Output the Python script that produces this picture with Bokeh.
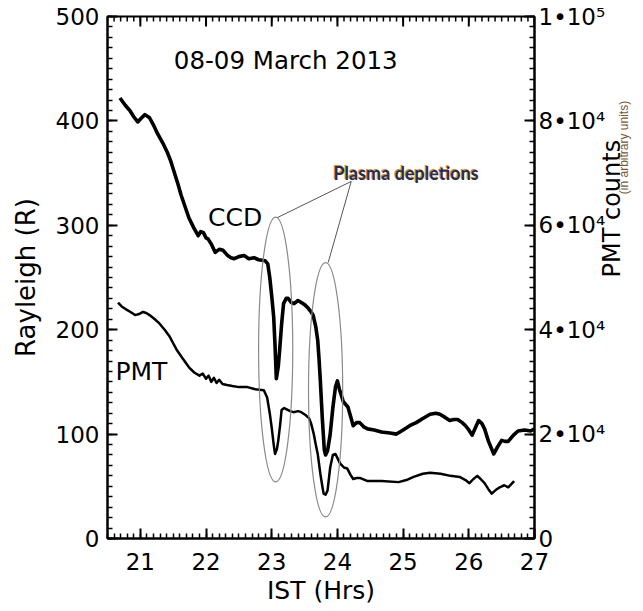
import math
from bokeh.plotting import figure
from bokeh.models import Range1d, LinearAxis, FixedTicker, Label
from bokeh.embed import file_html
from bokeh.resources import INLINE

# ---------------- data ----------------
ccd_hours = [20.69, 20.77, 20.84, 20.90, 20.96, 21.02, 21.07, 21.14, 21.20, 21.26,
             21.34, 21.41, 21.46, 21.51, 21.57, 21.62, 21.68, 21.74, 21.81, 21.88,
             21.92, 21.96, 22.00, 22.03, 22.08, 22.14, 22.20, 22.26, 22.33, 22.38,
             22.43, 22.50, 22.58, 22.65, 22.73, 22.80, 22.90, 22.94, 22.97, 23.00,
             23.03, 23.05, 23.07, 23.10, 23.12, 23.15, 23.18, 23.22, 23.25, 23.30,
             23.34, 23.40, 23.45, 23.50, 23.55, 23.60, 23.63, 23.67, 23.70, 23.72,
             23.74, 23.77, 23.80, 23.82, 23.85, 23.89, 23.93, 23.97, 24.00, 24.03,
             24.09, 24.16, 24.20, 24.24, 24.29, 24.34, 24.40, 24.46, 24.56, 24.67,
             24.80, 24.90, 25.00, 25.10, 25.20, 25.30, 25.41, 25.50, 25.56, 25.64,
             25.71, 25.77, 25.83, 25.90, 25.95, 26.00, 26.05, 26.10, 26.15, 26.20,
             26.24, 26.30, 26.38, 26.44, 26.50, 26.55, 26.60, 26.68, 26.75, 26.85,
             26.94, 27.00]
ccd_rayleigh = [422, 415, 410, 404, 399, 403, 406, 403, 396, 388,
                379, 370, 362, 352, 340, 329, 318, 307, 298, 290,
                294, 293, 288, 287, 282, 274, 277, 276, 271, 269,
                268, 270, 271, 268, 269, 267, 266, 263, 250, 232,
                212, 185, 153, 165, 180, 205, 225, 230, 230, 226,
                225, 228, 226, 224, 221, 217, 214, 203, 190, 172,
                151, 115, 85, 80, 84, 100, 125, 145, 151, 143,
                131, 126, 117, 108, 111, 111, 107, 105, 104, 102,
                101, 100, 104, 108, 111, 115, 119, 120, 119, 116,
                113, 114, 114, 111, 108, 104, 99, 106, 113, 110,
                105, 93, 81, 88, 94, 93, 93, 99, 103, 104,
                103, 105]

pmt_hours = [20.66, 20.72, 20.77, 20.85, 20.92, 20.98, 21.04, 21.09, 21.14, 21.22,
             21.29, 21.37, 21.44, 21.50, 21.56, 21.65, 21.74, 21.82, 21.90, 21.95,
             22.00, 22.04, 22.08, 22.12, 22.16, 22.20, 22.25, 22.32, 22.40, 22.50,
             22.63, 22.75, 22.88, 22.93, 22.97, 23.00, 23.03, 23.05, 23.08, 23.10,
             23.13, 23.15, 23.19, 23.22, 23.28, 23.33, 23.40, 23.45, 23.52, 23.57,
             23.60, 23.64, 23.67, 23.70, 23.74, 23.77, 23.79, 23.82, 23.85, 23.89,
             23.93, 23.97, 24.04, 24.10, 24.15, 24.20, 24.24, 24.29, 24.34, 24.46,
             24.67, 24.93, 25.05, 25.16, 25.30, 25.41, 25.57, 25.72, 25.86, 25.95,
             26.01, 26.07, 26.13, 26.18, 26.24, 26.30, 26.35, 26.42, 26.47, 26.54,
             26.60, 26.69]
pmt_counts = [45200, 44400, 44000, 43400, 42800, 43000, 43400, 43200, 42800, 42000,
              41200, 40000, 38800, 37400, 36000, 34400, 32800, 31800, 31200, 31600,
              30600, 31200, 30000, 30800, 29800, 30400, 29600, 29400, 29200, 29000,
              29000, 28600, 28400, 27000, 24000, 21200, 18000, 16200, 17200, 18800,
              22000, 24600, 25000, 24800, 24400, 24200, 24400, 24200, 23600, 23000,
              22000, 20000, 18000, 16200, 12400, 10000, 8600, 8400, 9200, 13600,
              16000, 16200, 14400, 13600, 13400, 12200, 11400, 11600, 11600, 11000,
              11000, 10800, 11200, 11800, 12400, 12600, 12400, 12000, 11800, 11200,
              10600, 11400, 12000, 11400, 10600, 9400, 8600, 9400, 9800, 10200,
              9800, 11000]

x_major = [21, 22, 23, 24, 25, 26, 27]
x_labels = ["21", "22", "23", "24", "25", "26", "27"]
left_major = [0, 100, 200, 300, 400, 500]
right_major = [0, 20000, 40000, 60000, 80000, 100000]
right_labels = ["0", "2•10⁴", "4•10⁴", "6•10⁴", "8•10⁴", "1•10⁵"]

# depletion marks (ellipses): centre hour, centre R, width (h), height (R)
dep_x = [23.06, 23.82]
dep_y = [181, 142.5]
dep_w = [0.52, 0.52]
dep_h = [254, 244]
# pointer lines from the "Plasma depletions" note
ptr_x0 = [24.21, 24.21]
ptr_y0 = [342, 342]
ptr_x1 = [23.09, 23.86]
ptr_y1 = [307.5, 264.4]

FONT = "DejaVu Sans"
X0, X1 = 20.5, 27.0
Y0, Y1 = 0, 500
P0, P1 = 0, 100000
FRAME_W, FRAME_H = 437, 522
LEFT, TOP = 107, 16
W, H = 643, 611

p = figure(width=W, height=H, x_range=Range1d(X0, X1), y_range=Range1d(Y0, Y1),
           output_backend="svg", toolbar_location=None,
           min_border_left=LEFT, min_border_right=W - LEFT - FRAME_W,
           min_border_top=TOP, min_border_bottom=H - TOP - FRAME_H)
p.extra_y_ranges = {"pmt": Range1d(P0, P1)}
p.xgrid.visible = False
p.ygrid.visible = False
p.outline_line_color = "black"
p.outline_line_width = 2

x_minor = [round(X0 + 0.1 * i, 2) for i in range(66)]
left_minor = list(range(0, 501, 10))
right_minor = list(range(0, 100001, 2000))


def style(ax, label_size="23px"):
    ax.axis_line_width = 2
    ax.axis_line_color = "black"
    ax.major_tick_in = 10
    ax.major_tick_out = 0
    ax.minor_tick_in = 5
    ax.minor_tick_out = 0
    ax.major_tick_line_color = "black"
    ax.minor_tick_line_color = "black"
    ax.major_tick_line_width = 2
    ax.minor_tick_line_width = 1.5
    ax.major_label_text_font = FONT
    ax.major_label_text_font_size = label_size
    ax.major_label_text_color = "black"
    ax.axis_label_text_font = FONT
    ax.axis_label_text_font_style = "normal"
    ax.axis_label_text_color = "black"


def try_set(ax, **kw):
    for k, v in kw.items():
        try:
            setattr(ax, k, v)
        except Exception:
            pass


bx = p.xaxis[0]
bx.ticker = FixedTicker(ticks=x_major, minor_ticks=x_minor)
bx.major_label_overrides = {t: s for t, s in zip(x_major, x_labels)}
style(bx)
bx.major_label_standoff = 14
bx.axis_label = "IST (Hrs)"
bx.axis_label_text_font_size = "25px"
bx.axis_label_standoff = 3

ly = p.yaxis[0]
ly.ticker = FixedTicker(ticks=left_major, minor_ticks=left_minor)
style(ly)
ly.major_label_standoff = 8
ly.axis_label = "Rayleigh (R)"
ly.axis_label_text_font_size = "26px"
ly.axis_label_standoff = 12

ry = LinearAxis(y_range_name="pmt", ticker=FixedTicker(ticks=right_major, minor_ticks=right_minor))
style(ry)
ry.major_label_overrides = {t: s for t, s in zip(right_major, right_labels)}
ry.major_label_standoff = 4
ry.axis_label = "PMT counts"
ry.axis_label_text_font_size = "24px"
ry.axis_label_standoff = 4
try_set(ry, axis_label_orientation=math.pi / 2)
p.add_layout(ry, "right")

# small "(in arbitrary units)" note on a label-only axis (one blank tick label)
NBSP = "\u00a0"
note = LinearAxis(y_range_name="pmt", ticker=FixedTicker(ticks=[P1]))
note.major_label_overrides = {P1: NBSP}
note.major_label_text_font = "Liberation Sans"
note.major_label_text_font_size = "12px"
note.major_label_standoff = 0
note.axis_line_color = None
note.major_tick_line_color = None
note.minor_tick_line_color = None
note.major_tick_in = 0
note.major_tick_out = 0
note.minor_tick_in = 0
note.minor_tick_out = 0
note.axis_label = NBSP * 25 + "(in arbitrary units)"
note.axis_label_text_font = "Liberation Sans"
note.axis_label_text_font_style = "normal"
note.axis_label_text_font_size = "12px"
note.axis_label_text_color = "#7a5530"
note.axis_label_standoff = -26
try_set(note, axis_label_orientation=math.pi / 2)
p.add_layout(note, "right")

# inward ticks along the top edge (mirroring the bottom axis ticks)
px_per_R = FRAME_H / (Y1 - Y0)
for vals, L, lw in ((x_major, 10, 2.0), (x_minor, 5, 1.5)):
    n = len(vals)
    p.segment(x0=vals, x1=vals, y0=[Y1 - 0.5 / px_per_R] * n, y1=[Y1 - L / px_per_R] * n,
              line_color="black", line_width=lw)

# curves
p.line(ccd_hours, ccd_rayleigh, line_color="black", line_width=3.6, line_join="round")
p.line(pmt_hours, pmt_counts, y_range_name="pmt", line_color="black", line_width=2.5,
       line_join="round")

# depletion annotations
p.ellipse(x=dep_x, y=dep_y, width=dep_w, height=dep_h, fill_color=None,
          line_color="#8a8a8a", line_width=1.2)
p.segment(x0=ptr_x0, y0=ptr_y0, x1=ptr_x1, y1=ptr_y1, line_color="#555555", line_width=1)


def txt(fig, **kw):
    kw.setdefault("text_baseline", "alphabetic")
    kw.setdefault("text_color", "black")
    fig.add_layout(Label(**kw))


txt(p, x=21.51, y=458, text="08-09 March 2013", text_font=FONT, text_font_size="24.5px")
txt(p, x=22.03, y=307.5, text="CCD", text_font=FONT, text_font_size="25px")
txt(p, x=20.62, y=160, text="PMT", text_font=FONT, text_font_size="25px")
txt(p, x=23.94, y=350, x_offset=-1, y_offset=1, text="Plasma depletions",
    text_font="Lato", text_font_style="bold", text_font_size="18px", text_color="#e08a2c")
txt(p, x=23.94, y=350, text="Plasma depletions",
    text_font="Lato", text_font_style="bold", text_font_size="18px", text_color="#1f2f5a")

open("out.html", "w").write(file_html(p, INLINE))
